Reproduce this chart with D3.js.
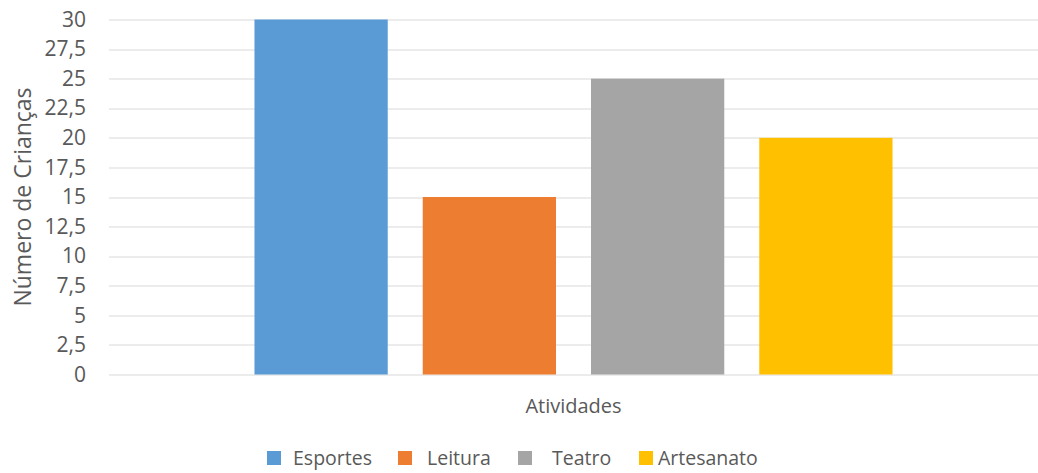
<!DOCTYPE html>
<html>
<head>
<meta charset="utf-8">
<script src="https://cdn.jsdelivr.net/npm/d3@7"></script>
<style>
  body { margin: 0; background: #fff; }
  text { font-family: 'Open Sans', sans-serif; fill: #595959; }
</style>
</head>
<body>
<svg id="chart" width="1038" height="473"></svg>
<script>
// dados
const categories = ['Atividades'];
const series = ['Esportes', 'Leitura', 'Teatro', 'Artesanato'];
const values = [30, 15, 25, 20];
const yTicks = [0, 2.5, 5, 7.5, 10, 12.5, 15, 17.5, 20, 22.5, 25, 27.5, 30];
const colors = ['#5B9BD5', '#ED7D31', '#A5A5A5', '#FFC000'];

const svg = d3.select('#chart');
const margin = { top: 19.5, right: 0, bottom: 98.5, left: 109 };
const width = +svg.attr('width') - margin.left - margin.right;
const height = +svg.attr('height') - margin.top - margin.bottom;

const g = svg.append('g').attr('transform', `translate(${margin.left},${margin.top})`);

const x0 = d3.scaleBand().domain(categories).range([0, width]).paddingInner(0).paddingOuter(0.228);
const x1 = d3.scaleBand().domain(series).range([0, x0.bandwidth()]).paddingInner(0.208).paddingOuter(0);
const y = d3.scaleLinear().domain([0, 30]).range([height, 0]);

const fmt = d => String(d).replace('.', ',');

// grade
g.selectAll('.grid')
  .data(yTicks)
  .enter().append('line')
  .attr('x1', 0)
  .attr('x2', width)
  .attr('y1', d => Math.round(y(d)) + 0.5)
  .attr('y2', d => Math.round(y(d)) + 0.5)
  .attr('stroke', '#D9D9D9')
  .attr('stroke-width', 1);

const yAxis = d3.axisLeft(y).tickValues(yTicks).tickFormat(fmt).tickSize(0).tickPadding(23);
const ya = g.append('g').call(yAxis);
ya.select('.domain').remove();
ya.selectAll('text')
  .attr('font-size', '21px')
  .attr('font-family', "'Open Sans', sans-serif")
  .attr('fill', '#595959');

// barras
g.selectAll('.bar')
  .data(series.map((s, i) => ({ s, v: values[i], c: colors[i], cat: categories[0] })))
  .enter().append('rect')
  .attr('class', 'bar')
  .attr('x', d => x0(d.cat) + x1(d.s))
  .attr('width', x1.bandwidth())
  .attr('y', d => y(d.v))
  .attr('height', d => height - y(d.v))
  .attr('fill', d => d.c);

// titulos
svg.append('text')
  .attr('transform', `translate(31,${margin.top + height / 2}) rotate(-90)`)
  .attr('text-anchor', 'middle')
  .attr('font-size', '23px')
  .text('Número de Crianças');

svg.append('text')
  .attr('x', margin.left + x0(categories[0]) + x0.bandwidth() / 2)
  .attr('y', 413)
  .attr('text-anchor', 'middle')
  .attr('font-size', '20px')
  .text(categories[0]);

// legenda
const legendX = [267, 398, 518, 639];
const legendGap = [26, 29, 34, 19];
const lg = svg.append('g');
series.forEach((s, i) =>
{
  lg.append('rect')
    .attr('x', legendX[i])
    .attr('y', 451)
    .attr('width', 14)
    .attr('height', 14)
    .attr('fill', colors[i]);
  lg.append('text')
    .attr('x', legendX[i] + legendGap[i])
    .attr('y', 465)
    .attr('font-size', '19.5px')
    .text(s);
});
</script>
</body>
</html>
